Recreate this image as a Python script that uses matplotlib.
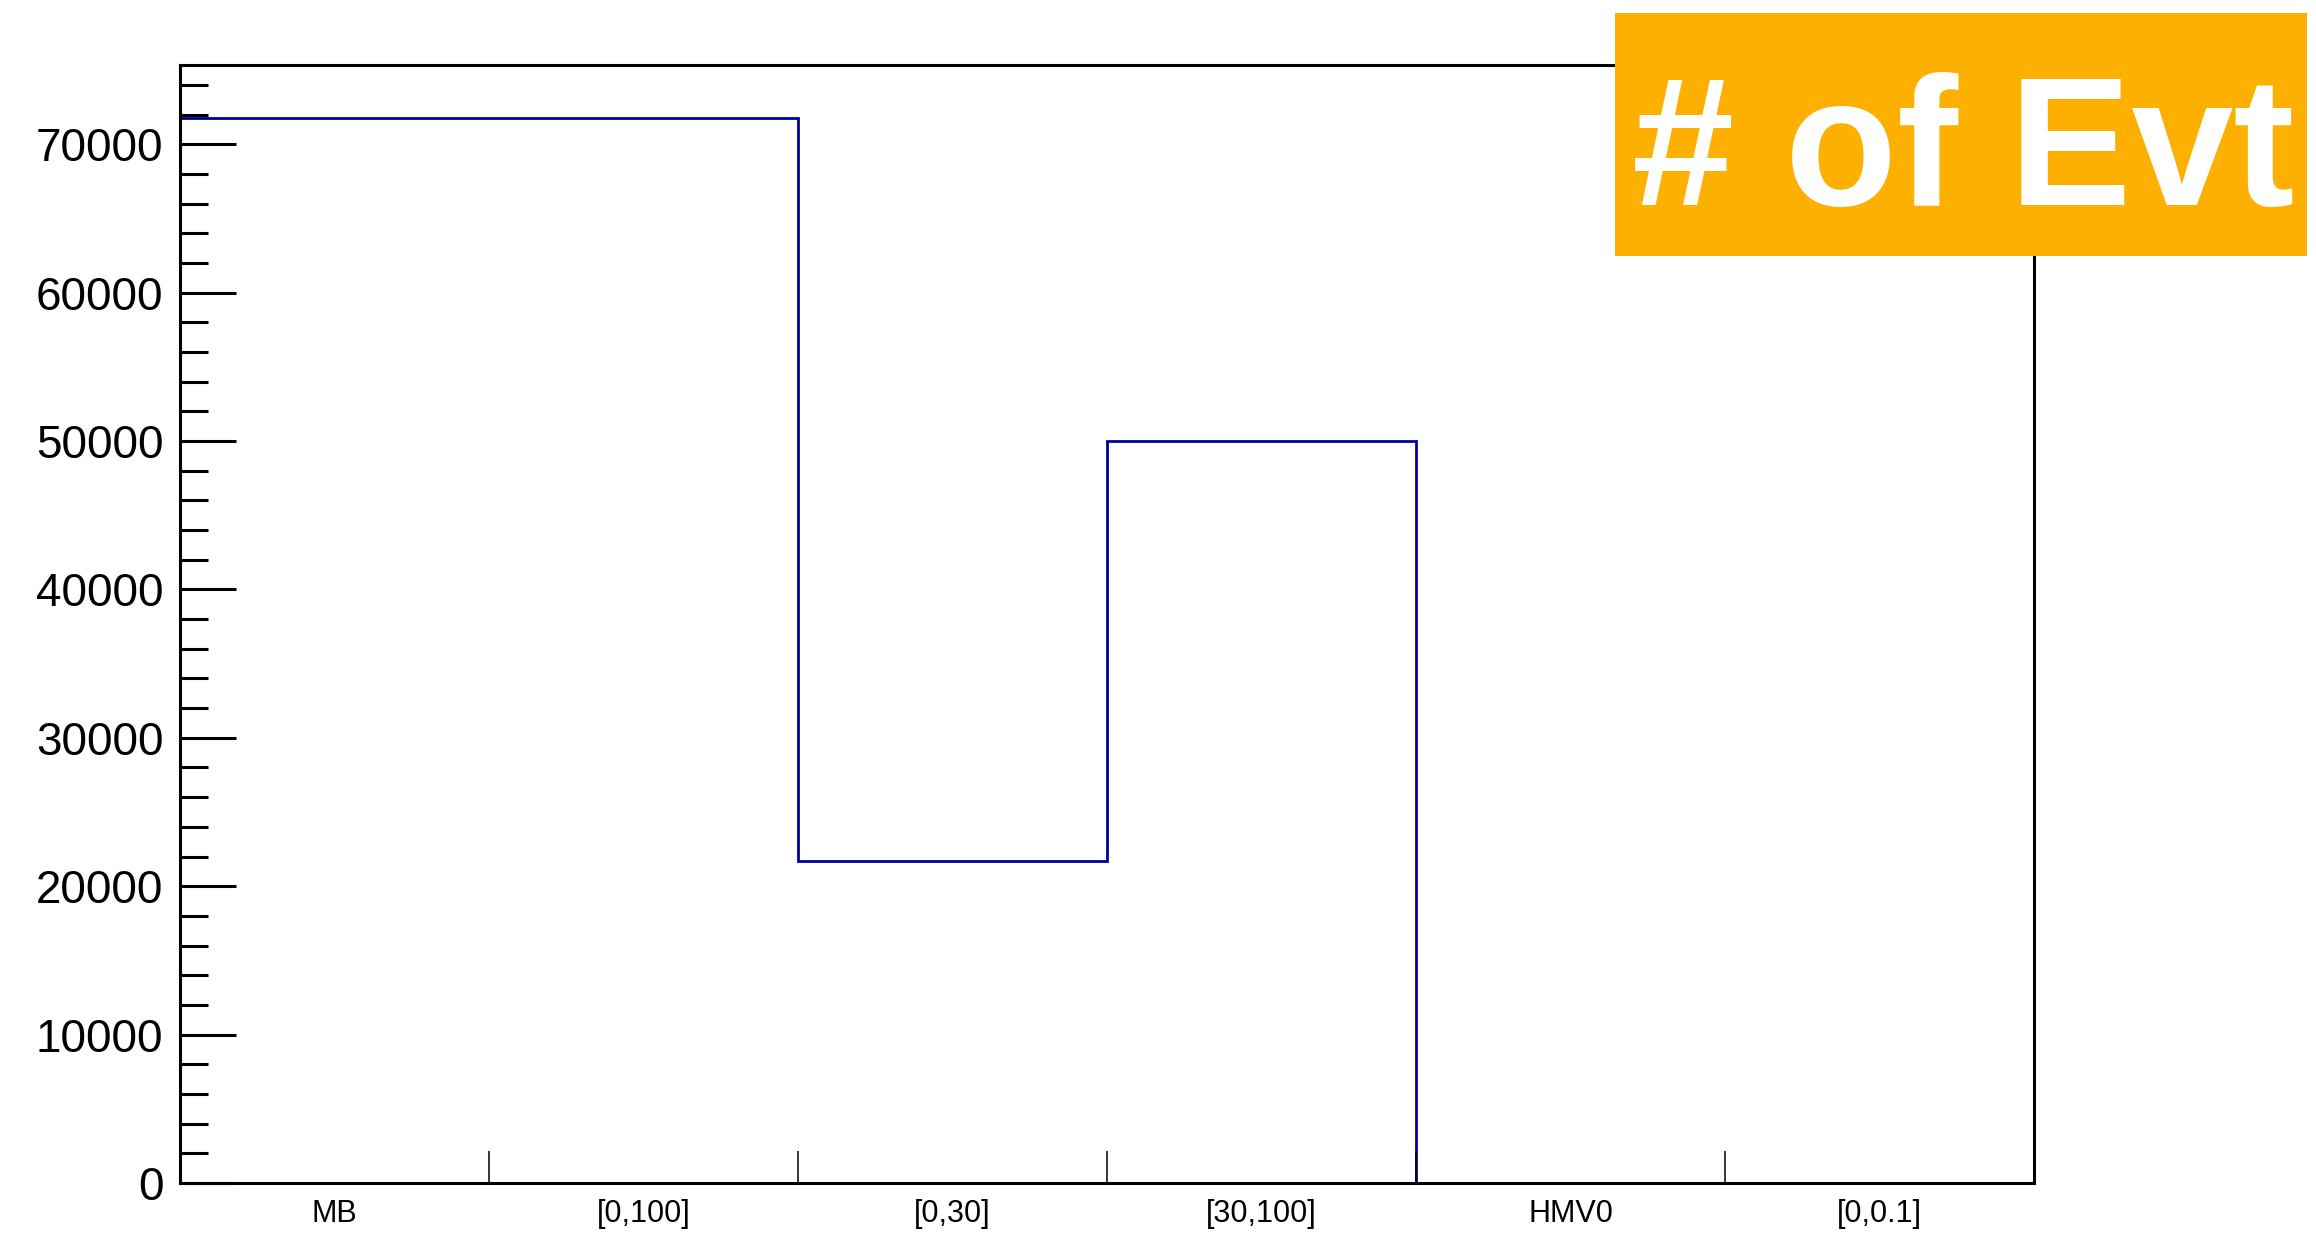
import numpy as np
import matplotlib
matplotlib.use('Agg')
import matplotlib.pyplot as plt
from matplotlib.patches import Rectangle
from matplotlib.ticker import MultipleLocator, FixedLocator, NullFormatter

# 数据：各分类的事件数
categories = ['MB', '[0,100]', '[0,30]', '[30,100]', 'HMV0', '[0,0.1]']
counts = [71750, 71750, 21720, 50000, 0, 0]
title_text = '# of Evt'

plt.rcParams['font.family'] = ['Liberation Sans', 'DejaVu Sans']

W, H, DPI = 2316, 1234, 100
fig = plt.figure(figsize=(W / DPI, H / DPI), dpi=DPI)
fig.patch.set_facecolor('white')

# 坐标轴位置（按像素换算）
left, right, top, bottom = 180, 2034, 65, 1183
ax = fig.add_axes([left / W, 1 - bottom / H, (right - left) / W, (bottom - top) / H])

n = len(categories)
edges = np.arange(n + 1)
ax.stairs(counts, edges, color='#00009c', linewidth=2.0, baseline=0)

ax.set_xlim(0, n)
ax.set_ylim(0, max(counts) * 1.05)

# x 轴：刻度在 bin 边界，标签在 bin 中心
ax.xaxis.set_major_locator(FixedLocator(edges))
ax.xaxis.set_major_formatter(NullFormatter())
ax.tick_params(axis='x', which='major', direction='in', length=32 / 1.389,
               width=1.1, bottom=True, top=False)
for i, lab in enumerate(categories):
    ax.text(i + 0.5, -0.028, lab, transform=ax.get_xaxis_transform(),
            ha='center', va='center', fontsize=22)

# y 轴：主刻度 10000，次刻度 2000
ax.yaxis.set_major_locator(MultipleLocator(10000))
ax.yaxis.set_minor_locator(MultipleLocator(2000))
ax.tick_params(axis='y', which='major', direction='in', length=56 / 1.389,
               width=2.2, labelsize=33, pad=12, left=True, right=False)
ax.tick_params(axis='y', which='minor', direction='in', length=28 / 1.389,
               width=2.2, left=True, right=False)

for sp in ax.spines.values():
    sp.set_linewidth(2.2)
    sp.set_color('black')

# 右上角橙色标题框
box_x0, box_x1, box_y0, box_y1 = 1615, 2307, 13, 256
fig.patches.append(Rectangle((box_x0 / W, 1 - box_y1 / H), (box_x1 - box_x0) / W,
                             (box_y1 - box_y0) / H, transform=fig.transFigure,
                             facecolor='#fdb000', edgecolor='none', zorder=5))
fig.text(1632 / W, 1 - 205 / H, title_text, color='white', fontsize=132,
         fontweight='bold', ha='left', va='baseline', zorder=6)

fig.savefig('out.png', dpi=DPI)
